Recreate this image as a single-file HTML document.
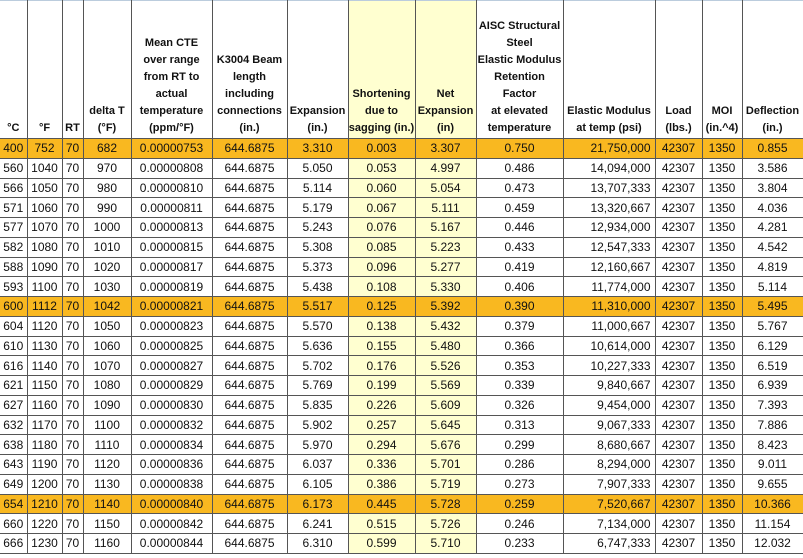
<!DOCTYPE html>
<html><head><meta charset="utf-8"><style>
html,body{margin:0;padding:0;background:#fff;width:803px;height:558px;overflow:hidden}
table{border-collapse:collapse;table-layout:fixed;font-family:"Liberation Sans",sans-serif;font-size:12px;color:#111;position:absolute;left:0;top:0;width:803px}
td{border:1px solid #555;padding:0 2px;text-align:center;height:18.75px;line-height:18px;white-space:nowrap;overflow:hidden}
tr.h td{height:136px;vertical-align:bottom;font-weight:bold;font-size:11px;line-height:17px;padding:0 0 1px 0;border-top:1px solid #bcd}
tr.o td{background:#f9b820}
td.y{background:#ffffd0}
tr.o td.y{background:#f9b820}
td.r{text-align:right;padding-right:4px}
td:first-child{border-left:none}
</style></head><body>
<table>
<colgroup><col style="width:27px"><col style="width:35px"><col style="width:21px"><col style="width:48px"><col style="width:81px"><col style="width:75px"><col style="width:61px"><col style="width:67px"><col style="width:61px"><col style="width:87px"><col style="width:92px"><col style="width:47px"><col style="width:40px"><col style="width:61px"></colgroup>
<tr class="h"><td>°C</td><td>°F</td><td>RT</td><td>delta T<br>(°F)</td><td>Mean CTE<br>over range<br>from RT to<br>actual<br>temperature<br>(ppm/°F)</td><td>K3004 Beam<br>length<br>including<br>connections<br>(in.)</td><td>Expansion<br>(in.)</td><td class="y">Shortening<br>due to<br>sagging (in.)</td><td class="y">Net<br>Expansion<br>(in)</td><td>AISC Structural<br>Steel<br>Elastic Modulus<br>Retention<br>Factor<br>at elevated<br>temperature</td><td>Elastic Modulus<br>at temp (psi)</td><td>Load<br>(lbs.)</td><td>MOI<br>(in.^4)</td><td>Deflection<br>(in.)</td></tr>
<tr class="o"><td>400</td><td>752</td><td>70</td><td>682</td><td>0.00000753</td><td>644.6875</td><td>3.310</td><td class="y">0.003</td><td class="y">3.307</td><td>0.750</td><td class="r">21,750,000</td><td>42307</td><td>1350</td><td>0.855</td></tr>
<tr><td>560</td><td>1040</td><td>70</td><td>970</td><td>0.00000808</td><td>644.6875</td><td>5.050</td><td class="y">0.053</td><td class="y">4.997</td><td>0.486</td><td class="r">14,094,000</td><td>42307</td><td>1350</td><td>3.586</td></tr>
<tr><td>566</td><td>1050</td><td>70</td><td>980</td><td>0.00000810</td><td>644.6875</td><td>5.114</td><td class="y">0.060</td><td class="y">5.054</td><td>0.473</td><td class="r">13,707,333</td><td>42307</td><td>1350</td><td>3.804</td></tr>
<tr><td>571</td><td>1060</td><td>70</td><td>990</td><td>0.00000811</td><td>644.6875</td><td>5.179</td><td class="y">0.067</td><td class="y">5.111</td><td>0.459</td><td class="r">13,320,667</td><td>42307</td><td>1350</td><td>4.036</td></tr>
<tr><td>577</td><td>1070</td><td>70</td><td>1000</td><td>0.00000813</td><td>644.6875</td><td>5.243</td><td class="y">0.076</td><td class="y">5.167</td><td>0.446</td><td class="r">12,934,000</td><td>42307</td><td>1350</td><td>4.281</td></tr>
<tr><td>582</td><td>1080</td><td>70</td><td>1010</td><td>0.00000815</td><td>644.6875</td><td>5.308</td><td class="y">0.085</td><td class="y">5.223</td><td>0.433</td><td class="r">12,547,333</td><td>42307</td><td>1350</td><td>4.542</td></tr>
<tr><td>588</td><td>1090</td><td>70</td><td>1020</td><td>0.00000817</td><td>644.6875</td><td>5.373</td><td class="y">0.096</td><td class="y">5.277</td><td>0.419</td><td class="r">12,160,667</td><td>42307</td><td>1350</td><td>4.819</td></tr>
<tr><td>593</td><td>1100</td><td>70</td><td>1030</td><td>0.00000819</td><td>644.6875</td><td>5.438</td><td class="y">0.108</td><td class="y">5.330</td><td>0.406</td><td class="r">11,774,000</td><td>42307</td><td>1350</td><td>5.114</td></tr>
<tr class="o"><td>600</td><td>1112</td><td>70</td><td>1042</td><td>0.00000821</td><td>644.6875</td><td>5.517</td><td class="y">0.125</td><td class="y">5.392</td><td>0.390</td><td class="r">11,310,000</td><td>42307</td><td>1350</td><td>5.495</td></tr>
<tr><td>604</td><td>1120</td><td>70</td><td>1050</td><td>0.00000823</td><td>644.6875</td><td>5.570</td><td class="y">0.138</td><td class="y">5.432</td><td>0.379</td><td class="r">11,000,667</td><td>42307</td><td>1350</td><td>5.767</td></tr>
<tr><td>610</td><td>1130</td><td>70</td><td>1060</td><td>0.00000825</td><td>644.6875</td><td>5.636</td><td class="y">0.155</td><td class="y">5.480</td><td>0.366</td><td class="r">10,614,000</td><td>42307</td><td>1350</td><td>6.129</td></tr>
<tr><td>616</td><td>1140</td><td>70</td><td>1070</td><td>0.00000827</td><td>644.6875</td><td>5.702</td><td class="y">0.176</td><td class="y">5.526</td><td>0.353</td><td class="r">10,227,333</td><td>42307</td><td>1350</td><td>6.519</td></tr>
<tr><td>621</td><td>1150</td><td>70</td><td>1080</td><td>0.00000829</td><td>644.6875</td><td>5.769</td><td class="y">0.199</td><td class="y">5.569</td><td>0.339</td><td class="r">9,840,667</td><td>42307</td><td>1350</td><td>6.939</td></tr>
<tr><td>627</td><td>1160</td><td>70</td><td>1090</td><td>0.00000830</td><td>644.6875</td><td>5.835</td><td class="y">0.226</td><td class="y">5.609</td><td>0.326</td><td class="r">9,454,000</td><td>42307</td><td>1350</td><td>7.393</td></tr>
<tr><td>632</td><td>1170</td><td>70</td><td>1100</td><td>0.00000832</td><td>644.6875</td><td>5.902</td><td class="y">0.257</td><td class="y">5.645</td><td>0.313</td><td class="r">9,067,333</td><td>42307</td><td>1350</td><td>7.886</td></tr>
<tr><td>638</td><td>1180</td><td>70</td><td>1110</td><td>0.00000834</td><td>644.6875</td><td>5.970</td><td class="y">0.294</td><td class="y">5.676</td><td>0.299</td><td class="r">8,680,667</td><td>42307</td><td>1350</td><td>8.423</td></tr>
<tr><td>643</td><td>1190</td><td>70</td><td>1120</td><td>0.00000836</td><td>644.6875</td><td>6.037</td><td class="y">0.336</td><td class="y">5.701</td><td>0.286</td><td class="r">8,294,000</td><td>42307</td><td>1350</td><td>9.011</td></tr>
<tr><td>649</td><td>1200</td><td>70</td><td>1130</td><td>0.00000838</td><td>644.6875</td><td>6.105</td><td class="y">0.386</td><td class="y">5.719</td><td>0.273</td><td class="r">7,907,333</td><td>42307</td><td>1350</td><td>9.655</td></tr>
<tr class="o"><td>654</td><td>1210</td><td>70</td><td>1140</td><td>0.00000840</td><td>644.6875</td><td>6.173</td><td class="y">0.445</td><td class="y">5.728</td><td>0.259</td><td class="r">7,520,667</td><td>42307</td><td>1350</td><td>10.366</td></tr>
<tr><td>660</td><td>1220</td><td>70</td><td>1150</td><td>0.00000842</td><td>644.6875</td><td>6.241</td><td class="y">0.515</td><td class="y">5.726</td><td>0.246</td><td class="r">7,134,000</td><td>42307</td><td>1350</td><td>11.154</td></tr>
<tr><td>666</td><td>1230</td><td>70</td><td>1160</td><td>0.00000844</td><td>644.6875</td><td>6.310</td><td class="y">0.599</td><td class="y">5.710</td><td>0.233</td><td class="r">6,747,333</td><td>42307</td><td>1350</td><td>12.032</td></tr>
</table>
</body></html>
